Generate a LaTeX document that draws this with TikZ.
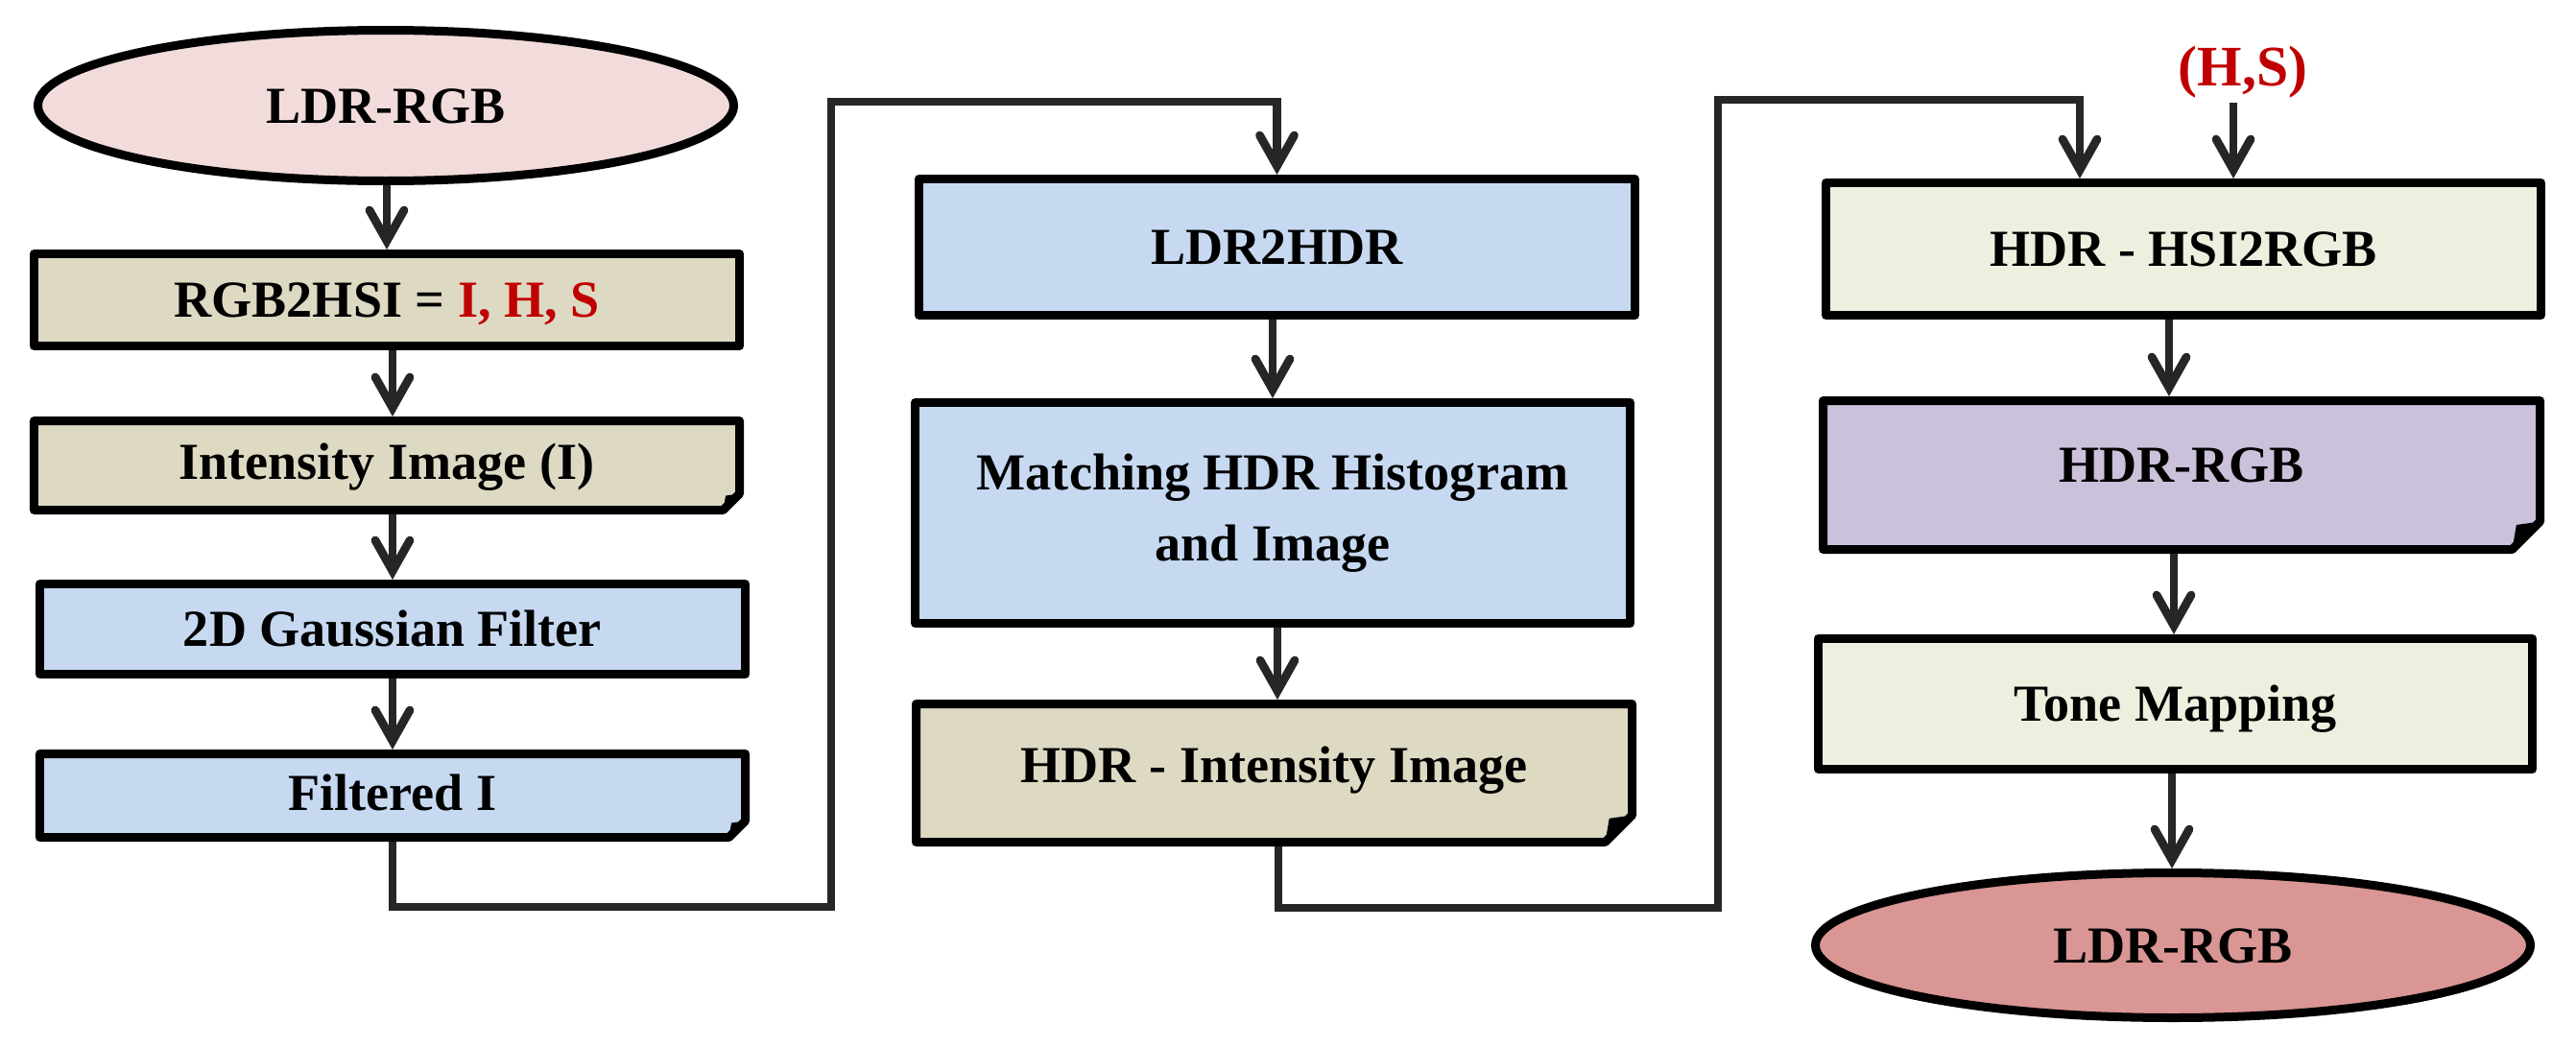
\documentclass[tikz,border=0pt]{standalone}
\usepackage{fontspec}
\setmainfont{Liberation Serif}
\usetikzlibrary{arrows.meta,shapes.geometric,backgrounds,calc}
\definecolor{pinkL}{HTML}{F2DCDB}
\definecolor{tanc}{HTML}{DDD9C3}
\definecolor{bluec}{HTML}{C6D9F1}
\definecolor{greenL}{HTML}{EBF1DE}
\definecolor{purp}{HTML}{CCC1DA}
\definecolor{pinkD}{HTML}{D99694}
\definecolor{redt}{HTML}{C00000}
\definecolor{lineg}{HTML}{262626}
\newcommand\foldshape[3]{%
  \begin{scope}[on background layer]
    \draw[fill=#2, draw=black, line width=0.9mm, line join=round]
      let \p1=(#1.north west), \p2=(#1.south east) in
      ({\x1+0.45mm},{\y1-0.45mm}) -- ({\x2-0.45mm},{\y1-0.45mm})
      -- ({\x2-0.45mm},{\y2+0.45mm+#3}) -- ({\x2-0.45mm-#3},{\y2+0.45mm})
      -- ({\x1+0.45mm},{\y2+0.45mm}) -- cycle;
    \fill[black]
      let \p2=(#1.south east) in
      ({\x2-0.45mm},{\y2+0.45mm+#3}) -- ({\x2-0.45mm-0.85*#3},{\y2+0.45mm+0.88*#3})
      -- ({\x2-0.45mm-#3},{\y2+0.45mm}) -- cycle;
  \end{scope}}
\begin{document}
\begin{tikzpicture}[
  font=\fontsize{15.4pt}{21pt}\selectfont\bfseries,
  one/.style={text height=3.6mm, text depth=#1},
  one/.default=0mm,
  rbox/.style={rectangle, draw=black, line width=0.9mm, line join=round, inner sep=0pt, outer sep=0.45mm},
  ell/.style={ellipse, draw=black, line width=0.9mm, inner sep=0pt, outer sep=0.45mm},
  fbox/.style={rectangle, draw=none, inner sep=0pt, outer sep=0.45mm},
  arr/.style={draw=lineg, line width=0.88mm, line join=miter, -{Straight Barb[length=3.2mm,width=3.6mm,line cap=round]}},
]
\useasboundingbox (0,0) rectangle (26.84,-10.91);

% column 1
\node[ell, fill=pinkL, minimum width=7.25cm, minimum height=1.57cm, one] (e1) at (4.02,-1.10) {LDR-RGB};
\node[rbox, fill=tanc, minimum width=7.35cm, minimum height=0.96cm, one] (b1) at (4.03,-3.125) {RGB2HSI = \textcolor{redt}{I, H, S}};
\node[fbox, minimum width=7.35cm, minimum height=0.93cm, one=0.8mm] (b2) at (4.03,-4.85) {Intensity Image (I)};
\node[rbox, fill=bluec, minimum width=7.35cm, minimum height=0.94cm, one] (b3) at (4.09,-6.555) {2D Gaussian Filter};
\node[fbox, minimum width=7.35cm, minimum height=0.87cm, one=0.6mm] (b4) at (4.09,-8.29) {Filtered I};

% column 2
\node[rbox, fill=bluec, minimum width=7.46cm, minimum height=1.42cm, one] (b5) at (13.305,-2.575) {LDR2HDR};
\node[rbox, fill=bluec, minimum width=7.45cm, minimum height=2.30cm, align=center] (b6) at (13.26,-5.345) {Matching HDR Histogram\\and Image};
\node[fbox, minimum width=7.46cm, minimum height=1.44cm, one=1.6mm] (b7) at (13.275,-8.055) {HDR - Intensity Image};

% column 3
\node[text=redt, font=\fontsize{17pt}{20pt}\selectfont\bfseries] (hs) at (23.37,-0.75) {(H,S)};
\node[rbox, fill=greenL, minimum width=7.45cm, minimum height=1.38cm, one] (b8) at (22.75,-2.595) {HDR - HSI2RGB};
\node[fbox, minimum width=7.47cm, minimum height=1.55cm, one=2.2mm] (b9) at (22.73,-4.95) {HDR-RGB};
\node[rbox, fill=greenL, minimum width=7.44cm, minimum height=1.36cm, one] (b10) at (22.665,-7.335) {Tone Mapping};
\node[ell, fill=pinkD, minimum width=7.45cm, minimum height=1.51cm, one] (e2) at (22.64,-9.85) {LDR-RGB};

\foldshape{b2}{tanc}{1.7mm}
\foldshape{b4}{bluec}{1.7mm}
\foldshape{b7}{tanc}{2.8mm}
\foldshape{b9}{purp}{2.9mm}

% arrow columns
\coordinate (xa1) at (4.03,0);
\coordinate (xa2) at (4.09,0);
\coordinate (xb1) at (13.26,0);
\coordinate (xb2) at (13.31,0);
\coordinate (xb3) at (13.32,0);
\coordinate (xc1) at (22.60,0);
\coordinate (xc2) at (22.65,0);
\coordinate (xc3) at (22.63,0);

\draw[arr] (xa1 |- e1.south) -- (xa1 |- b1.north);
\draw[arr] (xa2 |- b1.south) -- (xa2 |- b2.north);
\draw[arr] (xa2 |- b2.south) -- (xa2 |- b3.north);
\draw[arr] (xa2 |- b3.south) -- (xa2 |- b4.north);

\draw[arr] (xb1 |- b5.south) -- (xb1 |- b6.north);
\draw[arr] (xb2 |- b6.south) -- (xb2 |- b7.north);

\draw[arr] (xc1 |- b8.south) -- (xc1 |- b9.north);
\draw[arr] (xc2 |- b9.south) -- (xc2 |- b10.north);
\draw[arr] (xc3 |- b10.south) -- (xc3 |- e2.north);

% (H,S) input
\coordinate (hsa) at (23.27,-1.07);
\draw[arr] (hsa) -- (hsa |- b8.north);

% connector 1
\coordinate (c1a) at (8.66,-9.45);
\coordinate (c1b) at (8.66,-1.06);
\draw[arr] (xa2 |- b4.south) |- (c1a) -- (c1b) -| (b5.north);

% connector 2
\coordinate (c2a) at (17.90,-9.46);
\coordinate (c2b) at (17.90,-1.04);
\coordinate (c2c) at (21.67,-1.04);
\draw[arr] (xb3 |- b7.south) |- (c2a) -- (c2b) -- (c2c) -- (c2c |- b8.north);
\end{tikzpicture}
\end{document}
